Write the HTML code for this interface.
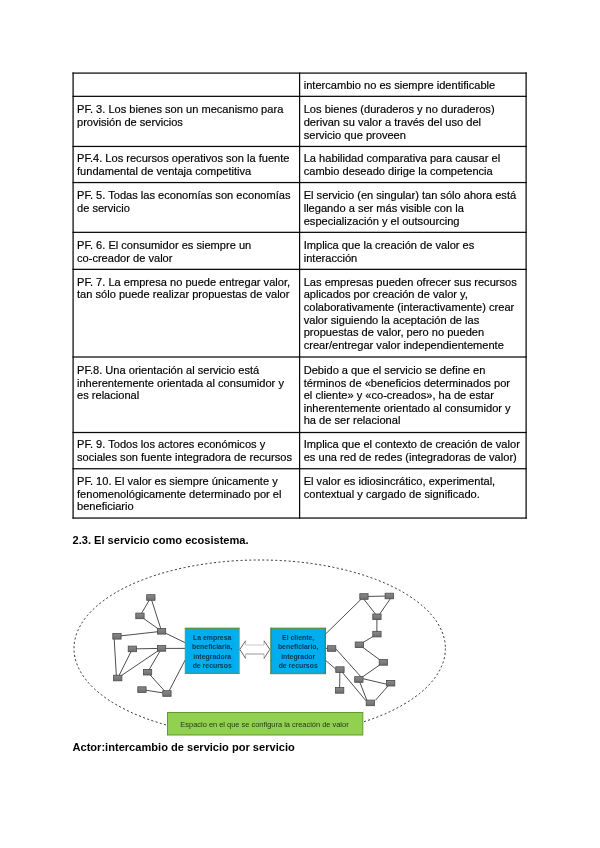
<!DOCTYPE html>
<html><head><meta charset="utf-8"><title>doc</title>
<style>
html,body{margin:0;padding:0;background:#fff;}
body{width:600px;height:848px;position:relative;overflow:hidden;font-family:"Liberation Sans",sans-serif;color:#000;}
.t{position:absolute;white-space:nowrap;-webkit-text-stroke:0.18px #000;font-size:11.09px;line-height:13px;height:13px;transform-origin:0 0;}
.b{position:absolute;white-space:nowrap;font-weight:bold;font-size:11.09px;line-height:13px;transform-origin:0 0;}
.h{position:absolute;height:1px;background:#111;}
.v{position:absolute;width:1px;background:#111;}
svg{position:absolute;left:0;top:0;}
#txt{position:absolute;left:0;top:0;width:600px;height:848px;filter:blur(0.3px);}
</style></head><body>
<div id="txt">

<svg width="600" height="848" viewBox="0 0 600 848" shape-rendering="geometricPrecision"><g fill="#0a0a0a"><rect x="72.47" y="72.47" width="454.25" height="1.25"/><rect x="72.47" y="95.72" width="454.25" height="1.25"/><rect x="72.47" y="145.82" width="454.25" height="1.25"/><rect x="72.47" y="181.93" width="454.25" height="1.25"/><rect x="72.47" y="231.72" width="454.25" height="1.25"/><rect x="72.47" y="268.73" width="454.25" height="1.25"/><rect x="72.47" y="356.38" width="454.25" height="1.25"/><rect x="72.47" y="431.88" width="454.25" height="1.25"/><rect x="72.47" y="468.12" width="454.25" height="1.25"/><rect x="72.47" y="517.42" width="454.25" height="1.25"/><rect x="72.47" y="72.47" width="1.25" height="446.20"/><rect x="298.98" y="72.47" width="1.25" height="446.20"/><rect x="525.48" y="72.47" width="1.25" height="446.20"/></g></svg>
<div class="t" style="left:303.7px;top:79px">intercambio no es siempre identificable</div>
<div class="t" style="left:77.0px;top:103px">PF. 3. Los bienes son un mecanismo para</div>
<div class="t" style="left:77.0px;top:116px">provisión de servicios</div>
<div class="t" style="left:303.7px;top:103px">Los bienes (duraderos y no duraderos)</div>
<div class="t" style="left:303.7px;top:116px">derivan su valor a través del uso del</div>
<div class="t" style="left:303.7px;top:129px">servicio que proveen</div>
<div class="t" style="left:77.0px;top:152px">PF.4. Los recursos operativos son la fuente</div>
<div class="t" style="left:77.0px;top:165px">fundamental de ventaja competitiva</div>
<div class="t" style="left:303.7px;top:152px">La habilidad comparativa para causar el</div>
<div class="t" style="left:303.7px;top:165px">cambio deseado dirige la competencia</div>
<div class="t" style="left:77.0px;top:189px">PF. 5. Todas las economías son economías</div>
<div class="t" style="left:77.0px;top:202px">de servicio</div>
<div class="t" style="left:303.7px;top:189px">El servicio (en singular) tan sólo ahora está</div>
<div class="t" style="left:303.7px;top:202px">llegando a ser más visible con la</div>
<div class="t" style="left:303.7px;top:215px">especialización y el outsourcing</div>
<div class="t" style="left:77.0px;top:239px">PF. 6. El consumidor es siempre un</div>
<div class="t" style="left:77.0px;top:252px">co-creador de valor</div>
<div class="t" style="left:303.7px;top:239px">Implica que la creación de valor es</div>
<div class="t" style="left:303.7px;top:252px">interacción</div>
<div class="t" style="left:77.0px;top:276px">PF. 7. La empresa no puede entregar valor,</div>
<div class="t" style="left:77.0px;top:288px">tan sólo puede realizar propuestas de valor</div>
<div class="t" style="left:303.7px;top:276px">Las empresas pueden ofrecer sus recursos</div>
<div class="t" style="left:303.7px;top:288px">aplicados por creación de valor y,</div>
<div class="t" style="left:303.7px;top:301px">colaborativamente (interactivamente) crear</div>
<div class="t" style="left:303.7px;top:314px">valor siguiendo la aceptación de las</div>
<div class="t" style="left:303.7px;top:326px">propuestas de valor, pero no pueden</div>
<div class="t" style="left:303.7px;top:339px">crear/entregar valor independientemente</div>
<div class="t" style="left:77.0px;top:364px">PF.8. Una orientación al servicio está</div>
<div class="t" style="left:77.0px;top:377px">inherentemente orientada al consumidor y</div>
<div class="t" style="left:77.0px;top:389px">es relacional</div>
<div class="t" style="left:303.7px;top:364px">Debido a que el servicio se define en</div>
<div class="t" style="left:303.7px;top:377px">términos de «beneficios determinados por</div>
<div class="t" style="left:303.7px;top:389px">el cliente» y «co-creados», ha de estar</div>
<div class="t" style="left:303.7px;top:402px">inherentemente orientado al consumidor y</div>
<div class="t" style="left:303.7px;top:414px">ha de ser relacional</div>
<div class="t" style="left:77.0px;top:438px">PF. 9. Todos los actores económicos y</div>
<div class="t" style="left:77.0px;top:451px">sociales son fuente integradora de recursos</div>
<div class="t" style="left:303.7px;top:438px">Implica que el contexto de creación de valor</div>
<div class="t" style="left:303.7px;top:451px">es una red de redes (integradoras de valor)</div>
<div class="t" style="left:77.0px;top:475px">PF. 10. El valor es siempre únicamente y</div>
<div class="t" style="left:77.0px;top:488px">fenomenológicamente determinado por el</div>
<div class="t" style="left:77.0px;top:500px">beneficiario</div>
<div class="t" style="left:303.7px;top:475px">El valor es idiosincrático, experimental,</div>
<div class="t" style="left:303.7px;top:488px">contextual y cargado de significado.</div>
<div class="b" style="left:72.5px;top:534px">2.3. El servicio como ecosistema.</div>
<div class="b" style="left:72.5px;top:741px">Actor:intercambio de servicio por servicio</div>
</div>
<svg style="filter:blur(0.3px)" width="600" height="848" viewBox="0 0 600 848">
<defs><clipPath id="cp"><rect x="60" y="555" width="400" height="179"/></clipPath><linearGradient id="ng" x1="0" y1="0" x2="0" y2="1"><stop offset="0" stop-color="#8a8a8a"/><stop offset="1" stop-color="#6e6e6e"/></linearGradient></defs>
<g clip-path="url(#cp)"><ellipse cx="259.7" cy="648.5" rx="185.7" ry="88.5" fill="none" stroke="#151515" stroke-width="0.9" stroke-dasharray="2 2.4"/></g>
<g stroke="#444" stroke-width="0.95" fill="none">
<line x1="150.8" y1="597.5" x2="140.0" y2="615.9"/>
<line x1="150.8" y1="597.5" x2="161.6" y2="631.3"/>
<line x1="140.0" y1="615.9" x2="161.6" y2="631.3"/>
<line x1="161.6" y1="631.3" x2="185.2" y2="642.7"/>
<line x1="117.0" y1="636.3" x2="161.6" y2="631.3"/>
<line x1="114.2" y1="638.5" x2="116.3" y2="675.5"/>
<line x1="132.4" y1="648.9" x2="161.6" y2="648.4"/>
<line x1="132.4" y1="648.9" x2="117.8" y2="678.0"/>
<line x1="161.6" y1="648.4" x2="117.8" y2="678.0"/>
<line x1="161.6" y1="648.4" x2="185.2" y2="648.4"/>
<line x1="161.6" y1="648.4" x2="147.6" y2="672.2"/>
<line x1="147.6" y1="672.2" x2="166.9" y2="693.5"/>
<line x1="142.0" y1="689.6" x2="166.9" y2="693.5"/>
<line x1="169.2" y1="690.7" x2="185.2" y2="660.0"/>
<line x1="325.9" y1="633.7" x2="363.9" y2="596.5"/>
<line x1="363.9" y1="596.5" x2="389.2" y2="596.0"/>
<line x1="363.7" y1="599.0" x2="375.6" y2="614.2"/>
<line x1="390.3" y1="598.8" x2="379.6" y2="614.2"/>
<line x1="376.9" y1="616.8" x2="376.9" y2="634.1"/>
<line x1="376.9" y1="634.1" x2="359.3" y2="644.8"/>
<line x1="359.3" y1="644.8" x2="383.3" y2="662.4"/>
<line x1="383.3" y1="662.4" x2="358.8" y2="679.5"/>
<line x1="362.5" y1="678.6" x2="386.6" y2="684.2"/>
<line x1="358.8" y1="679.5" x2="366.8" y2="700.2"/>
<line x1="388.0" y1="686.0" x2="375.5" y2="700.2"/>
<line x1="335.6" y1="648.6" x2="361.0" y2="676.9"/>
<line x1="325.7" y1="660.5" x2="336.0" y2="669.3"/>
<line x1="339.9" y1="669.6" x2="339.6" y2="690.4"/>
<line x1="342.3" y1="672.3" x2="366.0" y2="700.8"/>
<line x1="325.7" y1="648.3" x2="331.6" y2="648.5"/>
</g>
<g fill="url(#ng)" stroke="#4a4a4a" stroke-width="0.8">
<rect x="146.7" y="594.7" width="8.3" height="5.6"/>
<rect x="135.8" y="613.1" width="8.3" height="5.6"/>
<rect x="157.4" y="628.5" width="8.3" height="5.6"/>
<rect x="112.8" y="633.5" width="8.3" height="5.6"/>
<rect x="128.2" y="646.1" width="8.3" height="5.6"/>
<rect x="157.4" y="645.6" width="8.3" height="5.6"/>
<rect x="113.6" y="675.2" width="8.3" height="5.6"/>
<rect x="143.4" y="669.4" width="8.3" height="5.6"/>
<rect x="137.8" y="686.8" width="8.3" height="5.6"/>
<rect x="162.8" y="690.7" width="8.3" height="5.6"/>
<rect x="359.8" y="593.7" width="8.3" height="5.6"/>
<rect x="385.1" y="593.2" width="8.3" height="5.6"/>
<rect x="372.8" y="614.0" width="8.3" height="5.6"/>
<rect x="372.8" y="631.3" width="8.3" height="5.6"/>
<rect x="355.2" y="642.0" width="8.3" height="5.6"/>
<rect x="379.2" y="659.6" width="8.3" height="5.6"/>
<rect x="354.7" y="676.7" width="8.3" height="5.6"/>
<rect x="386.5" y="680.4" width="8.3" height="5.6"/>
<rect x="366.2" y="700.1" width="8.3" height="5.6"/>
<rect x="327.5" y="645.7" width="8.3" height="5.6"/>
<rect x="335.8" y="666.8" width="8.3" height="5.6"/>
<rect x="335.5" y="687.6" width="8.3" height="5.6"/>
</g>
<rect x="184.9" y="627.8" width="54.6" height="46.1" fill="#00aeef"/>
<rect x="270.6" y="627.8" width="55.1" height="46.1" fill="#00aeef"/>
<g stroke="#5d9450" fill="none"><path d="M184.9 628.4H239.5M184.9 673.4H239.5" stroke-width="1.3"/><path d="M270.6 628.4H325.7M270.6 673.5H325.7" stroke-width="1.3"/><path d="M271.2 627.8V673.9" stroke-width="1.8" stroke="#4f8f4a"/><path d="M325.3 627.8V673.9" stroke-width="1.1" stroke="#2f8a3a"/><path d="M185.2 627.8V673.9M239.2 627.8V673.9" stroke-width="0.6" stroke="#7fa07a"/></g>
<path d="M239.8 649.4L245.6 640.8V645H264V640.8L269.8 649.4L264 658.4V654H245.6V658.4Z" fill="#fff" stroke="none"/>
<path d="M245.6 645H264" fill="none" stroke="#c2c2c2" stroke-width="0.9"/><path d="M245.6 654H264" fill="none" stroke="#8c8c8c" stroke-width="0.9"/><path d="M245.6 640.8V645M245.6 654V658.4M264 640.8V645M264 654V658.4" fill="none" stroke="#aaa" stroke-width="0.8"/>
<path d="M245.6 640.8L239.8 649.4L245.6 658.4M264 640.8L269.8 649.4L264 658.4" fill="none" stroke="#555" stroke-width="0.9"/>
<rect x="167.5" y="712.5" width="195.3" height="22.5" fill="#92d050" stroke="#5f9a30" stroke-width="1"/>
<g font-family="Liberation Sans, sans-serif" font-weight="bold" font-size="6.9" fill="#06263f" fill-opacity="0.88" text-anchor="middle">
<text x="212.2" y="640.4">La empresa</text>
<text x="212.2" y="649.4">beneficiaria,</text>
<text x="212.2" y="658.5">integradora</text>
<text x="212.2" y="667.5">de recursos</text>
<text x="298.2" y="640.4">El cliente,</text>
<text x="298.2" y="649.4">beneficiario,</text>
<text x="298.2" y="658.5">integrador</text>
<text x="298.2" y="667.5">de recursos</text>
</g>
<text x="264.5" y="727.3" font-family="Liberation Sans, sans-serif" font-size="7.44" fill="#0c1a05" fill-opacity="0.85" text-anchor="middle">Espacio en el que se configura la creación de valor</text>
</svg>
</body></html>
